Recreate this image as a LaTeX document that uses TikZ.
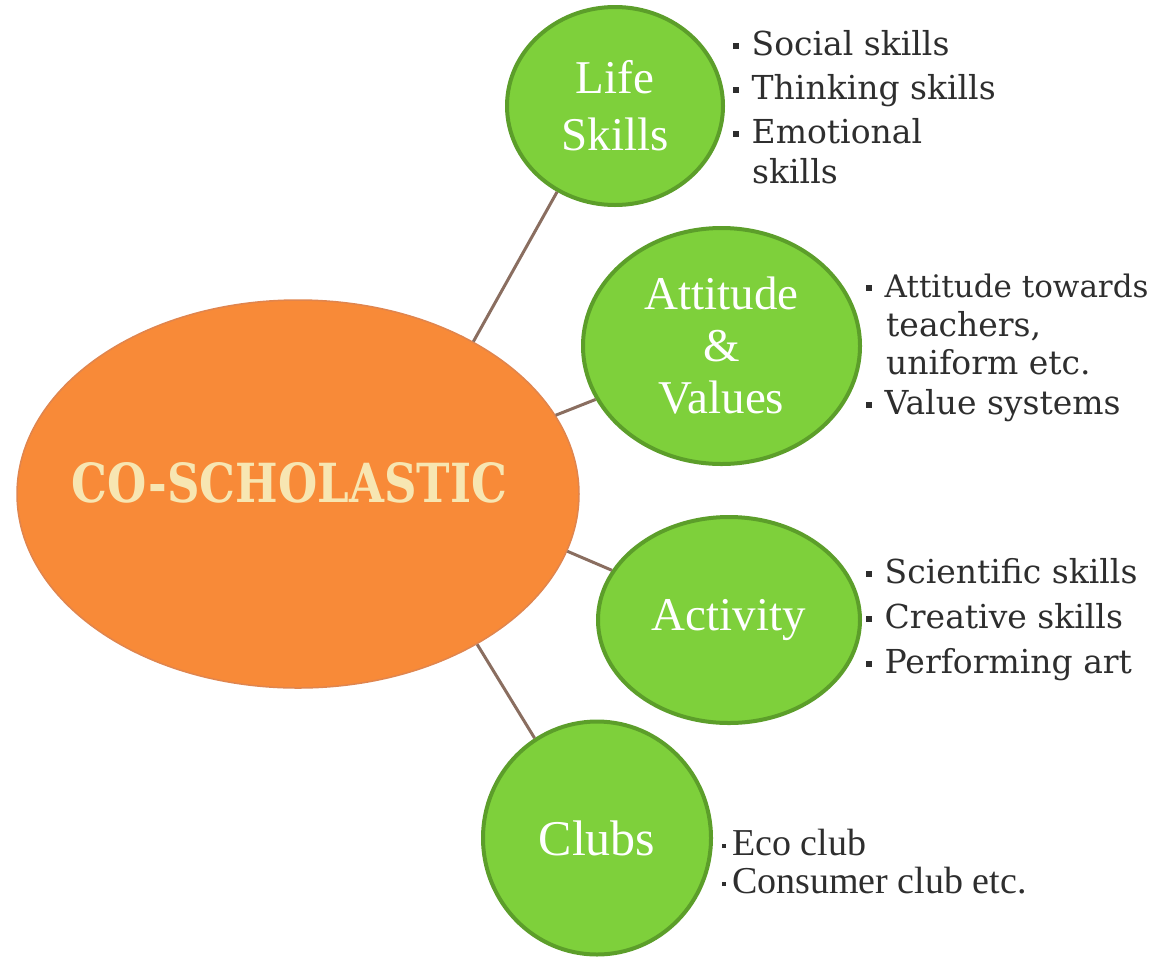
\documentclass[tikz,border=0pt]{standalone}
\usepackage{fontspec}
\setmainfont{Liberation Serif}
\newfontfamily\wideserif{DejaVu Serif}
\usetikzlibrary{shapes.geometric}
\definecolor{orangefill}{HTML}{F88A38}
\definecolor{orangeedge}{HTML}{E0854E}
\definecolor{greenfill}{HTML}{7ED03B}
\definecolor{greenedge}{HTML}{5C9E2A}
\definecolor{linkcol}{HTML}{8A6E60}
\definecolor{creamtext}{HTML}{F7E6B2}
\definecolor{bodytext}{HTML}{2E2E2E}
\tikzset{
  mainoval/.style={ellipse, fill=orangefill, draw=orangeedge, line width=1.5pt, inner sep=0pt},
  subcircle/.style={ellipse, fill=greenfill, draw=greenedge, line width=4pt, inner sep=0pt,
     text=white, align=center, font=\fontsize{47}{53}\selectfont},
  link/.style={draw=linkcol, line width=3pt},
  itemline/.style={anchor=base west, inner sep=0pt, text=bodytext, font=\wideserif\fontsize{33}{40}\selectfont},
  clubline/.style={anchor=base west, inner sep=0pt, text=bodytext, font=\fontsize{38}{40}\selectfont},
}
\newcommand{\bul}{\raisebox{6.5pt}{\rule{5.5pt}{5.5pt}}\hspace{13pt}}
\newcommand{\smallbul}{\raisebox{7pt}{\rule{4pt}{4pt}}\hspace{6pt}}
\begin{document}
\begin{tikzpicture}[x=1pt,y=-1pt]
\useasboundingbox (0,0) rectangle (1161,962);

% central oval
\node[mainoval, minimum width=562pt, minimum height=388pt] (co) at (298,494) {};
\node[text=creamtext, inner sep=0pt, anchor=base] (cotext) at (289.5,502)
  {\resizebox{435pt}{40pt}{\wideserif\bfseries CO-SCHOLASTIC}};

% green circles
\node[subcircle, minimum width=216pt, minimum height=198pt, font=\fontsize{47}{57}\selectfont] (life) at (615,106) {Life\\Skills};
\node[subcircle, minimum width=277pt, minimum height=236pt, font=\fontsize{47}{52}\selectfont] (att) at (721.5,346) {Attitude\\\&\\Values};
\node[subcircle, minimum width=262pt, minimum height=206pt] (act) at (729,620) {Activity};
\node[subcircle, minimum width=228pt, minimum height=233pt, font=\fontsize{50}{56}\selectfont] (clubs) at (597,838) {Clubs};

% connectors
\draw[link] (co.41.5) -- (life.236.6);
\draw[link] (co.17.2) -- (att.203.4);
\draw[link] (co.-12.7) -- (act.157.2);
\draw[link] (co.-40.1) -- (clubs.122.4);

% Life skills items
\node[itemline] (ls1) at (733,55) {\bul Social skills};
\node[itemline] (ls2) at (733,99) {\bul Thinking skills};
\node[itemline] (ls3) at (733,143) {\bul Emotional};
\node[itemline] (ls4) at (752,183) {skills};

% Attitude items
\node[itemline] (av1) at (866,297) {\bul\fontsize{31}{40}\selectfont Attitude towards};
\node[itemline] (av2) at (886,336) {teachers,};
\node[itemline] (av3) at (886,374) {uniform etc.};
\node[itemline] (av4) at (866,414) {\bul Value systems};

% Activity items
\node[itemline] (ac1) at (866,583) {\bul Scientific skills};
\node[itemline] (ac2) at (866,628) {\bul Creative skills};
\node[itemline] (ac3) at (866,673) {\bul Performing art};

% Clubs items
\node[clubline] (cl1) at (722,855) {\smallbul Eco club};
\node[clubline] (cl2) at (722,893) {\smallbul Consumer club etc.};
\end{tikzpicture}
\end{document}
